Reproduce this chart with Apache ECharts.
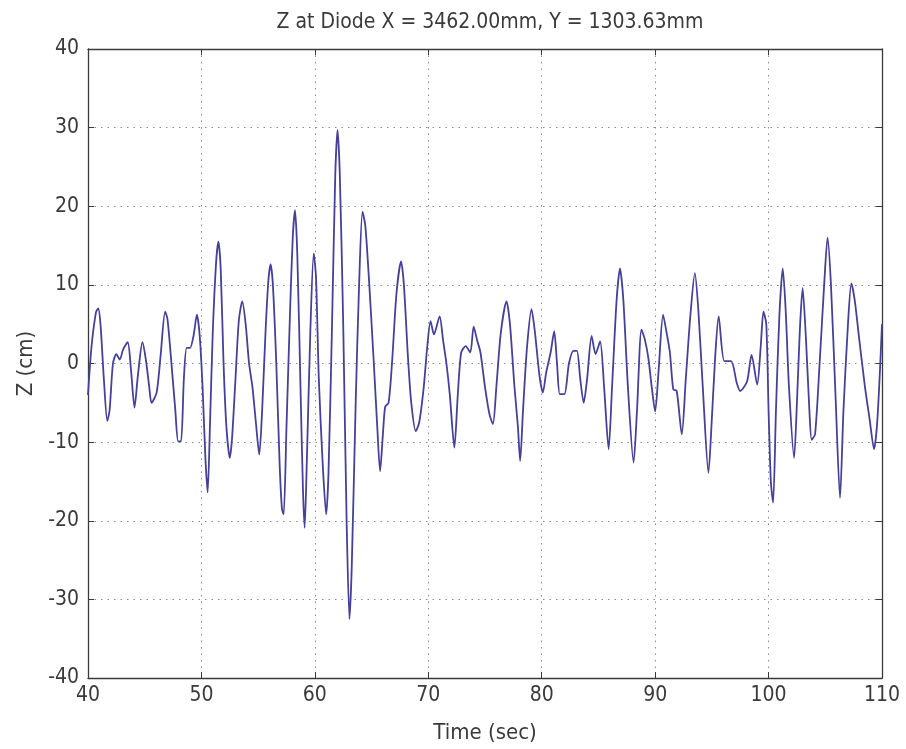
<!DOCTYPE html>
<html><head><meta charset="utf-8">
<script src="https://cdn.jsdelivr.net/npm/echarts@6/dist/echarts.min.js"></script>
<style>html,body{margin:0;padding:0;background:#fff}#c{width:906px;height:749px}</style>
</head><body><div id="c"></div>
<script>
const titleText = 'Z at Diode X = 3462.00mm, Y = 1303.63mm';
const xName = 'Time (sec)';
const yName = 'Z (cm)';
const xTicks = [40, 50, 60, 70, 80, 90, 100, 110];
const yTicks = [-40, -30, -20, -10, 0, 10, 20, 30, 40];
const timeSec = [
40.0,40.3,40.7,40.9,41.1,41.4,41.7,41.9,42.2,42.5,42.8,43.1,43.5,43.8,44.1,44.4,44.8,45.1,45.4,45.6,
46.05,46.4,46.8,47.0,47.3,47.7,47.95,48.2,48.45,48.7,49.0,49.3,49.6,49.85,50.1,50.35,50.55,50.75,51.0,51.3,
51.5,51.7,51.95,52.2,52.5,52.7,53.0,53.3,53.6,53.9,54.2,54.5,54.8,55.1,55.35,55.65,55.9,56.1,56.3,56.6,
56.9,57.1,57.25,57.5,57.8,58.05,58.25,58.45,58.75,58.95,59.1,59.3,59.6,59.9,60.1,60.35,60.7,61.0,61.2,61.5,
61.8,62.0,62.2,62.5,62.8,63.05,63.25,63.6,63.9,64.2,64.45,64.8,65.2,65.5,65.75,66.0,66.2,66.5,66.8,67.2,
67.6,67.85,68.2,68.5,68.9,69.2,69.6,69.9,70.2,70.5,71.0,71.3,71.6,71.9,72.3,72.6,72.9,73.3,73.7,74.0,
74.3,74.6,75.0,75.4,75.7,76.0,76.4,76.9,77.2,77.6,77.9,78.1,78.35,78.7,79.1,79.4,79.8,80.1,80.4,80.8,
81.1,81.35,81.6,82.0,82.4,82.8,83.1,83.4,83.7,84.0,84.4,84.75,85.15,85.5,85.9,86.2,86.6,86.9,87.2,87.6,
88.1,88.4,88.8,89.1,89.4,89.7,90.0,90.3,90.7,91.0,91.3,91.6,91.9,92.35,92.7,93.1,93.5,93.8,94.2,94.7,
95.0,95.3,95.6,96.1,96.7,97.2,97.5,98.1,98.5,99.0,99.3,99.55,99.8,100.0,100.2,100.4,100.65,100.95,101.25,101.5,
101.8,102.25,102.5,102.75,103.0,103.3,103.6,103.8,104.1,104.5,104.9,105.2,105.5,105.9,106.3,106.6,107.0,107.3,107.6,108.0,
108.5,108.9,109.3,109.6,110.0
];
const zCm = [
-4.0,2.0,6.5,7.0,5.0,-2.0,-7.3,-6.0,0.0,1.2,0.5,1.8,2.7,-1.0,-5.6,-1.5,2.7,0.5,-3.0,-5.0,
-3.7,1.0,6.6,5.7,1.0,-6.0,-9.9,-9.9,-2.0,2.0,2.0,3.5,6.2,3.5,-3.0,-12.0,-16.4,-8.0,4.0,13.0,
15.5,12.0,0.0,-8.0,-12.0,-9.5,-2.0,5.5,7.9,5.0,0.0,-3.0,-7.5,-11.6,-6.0,4.0,10.5,12.6,10.0,0.0,
-13.0,-18.5,-19.2,-8.0,6.0,16.0,19.5,14.0,-4.0,-16.0,-20.9,-12.0,4.0,14.0,11.0,-2.0,-13.0,-19.2,-14.0,4.0,
24.0,29.7,24.0,5.0,-20.0,-32.5,-26.0,-5.0,10.0,19.3,17.5,10.0,0.0,-8.0,-13.7,-9.0,-5.5,-5.0,0.0,9.0,
13.0,10.0,1.0,-5.0,-8.6,-7.5,-3.0,2.0,5.4,3.7,6.0,3.0,0.0,-4.0,-10.7,-4.0,1.4,2.2,1.4,4.7,
3.0,1.4,-3.0,-6.5,-7.7,-3.0,4.0,7.9,5.0,-3.0,-8.0,-12.4,-6.0,2.0,6.9,4.0,-1.5,-3.7,-1.1,1.5,
4.1,0.0,-3.9,-3.9,0.0,1.6,1.6,-2.0,-5.0,-2.0,3.5,1.2,2.8,-3.0,-10.9,-3.0,8.0,12.1,8.0,-3.0,
-12.6,-6.0,4.3,3.0,0.7,-3.0,-6.1,-1.0,6.2,4.0,1.4,-3.3,-3.5,-9.0,-2.0,6.0,11.5,7.0,-3.0,-13.9,
-7.0,1.0,6.0,0.3,0.3,-2.5,-3.5,-2.3,1.1,-2.7,2.0,6.6,5.0,-6.0,-15.0,-17.7,-6.0,6.0,12.1,7.0,
-3.0,-12.0,-5.0,4.0,9.6,3.0,-6.0,-9.7,-9.0,0.0,10.0,16.0,10.0,-4.0,-17.1,-6.0,5.0,10.2,8.0,3.0,
-3.0,-7.0,-10.9,-7.0,5.0
];
const seriesData = timeSec.map((t, i) => [t, zCm[i]]);
const font = '"DejaVu Sans Condensed","Liberation Sans Narrow","Liberation Sans",Arial,sans-serif';
const axisCol = '#3a3a3a';
const gridLine = {show: true, lineStyle: {color: '#8a8a8a', type: [1.5, 5], width: 1}};
const chart = echarts.init(document.getElementById('c'), null, {renderer: 'canvas'});
chart.setOption({
  animation: false,
  backgroundColor: '#fff',
  title: {text: titleText, left: 485, top: 7, textAlign: 'center',
    textStyle: {fontFamily: font, fontSize: 21, fontWeight: 'normal', color: '#3a3a3a'}},
  grid: {left: 88, right: 24, top: 49, bottom: 70, containLabel: false},
  xAxis: [{
    type: 'value', min: xTicks[0], max: xTicks[xTicks.length-1], interval: 10,
    name: xName, nameLocation: 'middle', nameGap: 44,
    nameTextStyle: {fontFamily: font, fontSize: 22, color: '#3a3a3a'},
    axisLine: {show: true, onZero: false, lineStyle: {color: axisCol, width: 1.3}},
    axisTick: {show: true, inside: true, length: 6, lineStyle: {color: axisCol}},
    axisLabel: {fontFamily: font, fontSize: 21, color: '#3a3a3a', margin: 7},
    splitLine: gridLine
  }, {
    type: 'value', position: 'top', min: xTicks[0], max: xTicks[xTicks.length-1], interval: 10,
    axisLine: {show: true, onZero: false, lineStyle: {color: axisCol, width: 1.3}},
    axisTick: {show: true, inside: true, length: 6, lineStyle: {color: axisCol}},
    axisLabel: {show: false}, splitLine: {show: false}
  }],
  yAxis: [{
    type: 'value', min: yTicks[0], max: yTicks[yTicks.length-1], interval: 10,
    name: yName, nameLocation: 'middle', nameGap: 48, nameRotate: 90,
    nameTextStyle: {fontFamily: font, fontSize: 22, color: '#3a3a3a'},
    axisLine: {show: true, onZero: false, lineStyle: {color: axisCol, width: 1.3}},
    axisTick: {show: true, inside: true, length: 6, lineStyle: {color: axisCol}},
    axisLabel: {fontFamily: font, fontSize: 21, color: '#3a3a3a', margin: 9},
    splitLine: gridLine
  }, {
    type: 'value', position: 'right', min: yTicks[0], max: yTicks[yTicks.length-1], interval: 10,
    axisLine: {show: true, onZero: false, lineStyle: {color: axisCol, width: 1.3}},
    axisTick: {show: true, inside: true, length: 6, lineStyle: {color: axisCol}},
    axisLabel: {show: false}, splitLine: {show: false}
  }],
  series: [{
    type: 'line', data: seriesData, xAxisIndex: 0, yAxisIndex: 0,
    showSymbol: false, smooth: 0.25,
    lineStyle: {color: '#45409a', width: 1.8}
  }]
});
</script></body></html>
